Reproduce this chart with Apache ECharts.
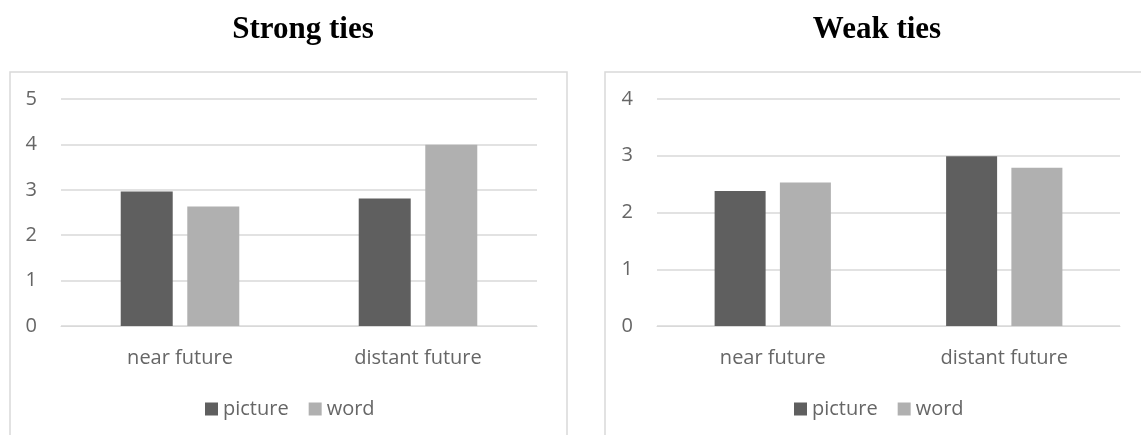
<!DOCTYPE html>
<html>
<head>
<meta charset="utf-8">
<script src="https://cdn.jsdelivr.net/npm/echarts@6/dist/echarts.min.js"></script>
<style>
html,body{margin:0;padding:0;background:#fff;}
#chart{width:1141px;height:435px;}
</style>
</head>
<body>
<div id="chart"></div>
<script>
const categories = ['near future', 'distant future'];
const seriesNames = ['picture', 'word'];
const strongPicture = [2.96, 2.81];
const strongWord = [2.63, 3.99];
const weakPicture = [2.38, 2.99];
const weakWord = [2.53, 2.79];
const strongTicks = [0, 5, 1];
const weakTicks = [0, 4, 1];
const titles = ['Strong ties', 'Weak ties'];

const darkColor = '#5f5f5f';
const lightColor = '#b0b0b0';
const textColor = '#666666';
const gridColor = '#d9d9d9';
const font = '"Open Sans", sans-serif';

const chart = echarts.init(document.getElementById('chart'));

function xAxis(gi) {
  return {
    type: 'category', gridIndex: gi, data: categories,
    axisTick: {show: false},
    axisLine: {show: true, lineStyle: {color: gridColor, width: 1}},
    axisLabel: {color: textColor, fontSize: 20, fontFamily: font, margin: 22}
  };
}
function yAxis(gi, t) {
  return {
    type: 'value', gridIndex: gi, min: t[0], max: t[1], interval: t[2],
    axisLine: {show: false}, axisTick: {show: false},
    splitLine: {lineStyle: {color: gridColor, width: 1.5}},
    axisLabel: {color: textColor, fontSize: 20, fontFamily: font, margin: 24}
  };
}
function bar(name, gi, data, color, width) {
  return {
    name: name, type: 'bar', xAxisIndex: gi, yAxisIndex: gi, data: data,
    barWidth: width, barGap: '28%',
    itemStyle: {color: color}
  };
}
function legend(left) {
  return {
    data: seriesNames, left: left, top: 394, itemWidth: 13, itemHeight: 13,
    itemGap: 20, icon: 'rect',
    textStyle: {color: textColor, fontSize: 20, fontFamily: font}
  };
}
function title(text, x) {
  return {
    text: text, left: x, top: 14, textAlign: 'center', padding: 0,
    textStyle: {fontFamily: '"Liberation Serif", "Times New Roman", serif', fontWeight: 'bold', fontSize: 31, color: '#000'}
  };
}

chart.setOption({
  backgroundColor: '#ffffff',
  animation: false,
  title: [title(titles[0], 303), title(titles[1], 877)],
  legend: [legend(200), legend(789)],
  graphic: [
    {type: 'rect', shape: {x: 10, y: 72, width: 557, height: 370}, style: {fill: 'none', stroke: gridColor, lineWidth: 1.5}, z: -1},
    {type: 'rect', shape: {x: 605, y: 72, width: 560, height: 370}, style: {fill: 'none', stroke: gridColor, lineWidth: 1.5}, z: -1}
  ],
  grid: [
    {left: 61, right: 604, top: 99, bottom: 109},
    {left: 657, right: 21, top: 99, bottom: 109}
  ],
  xAxis: [xAxis(0), xAxis(1)],
  yAxis: [yAxis(0, strongTicks), yAxis(1, weakTicks)],
  series: [
    bar(seriesNames[0], 0, strongPicture, darkColor, 52),
    bar(seriesNames[1], 0, strongWord, lightColor, 52),
    bar(seriesNames[0], 1, weakPicture, darkColor, 51),
    bar(seriesNames[1], 1, weakWord, lightColor, 51)
  ]
});
</script>
</body>
</html>
